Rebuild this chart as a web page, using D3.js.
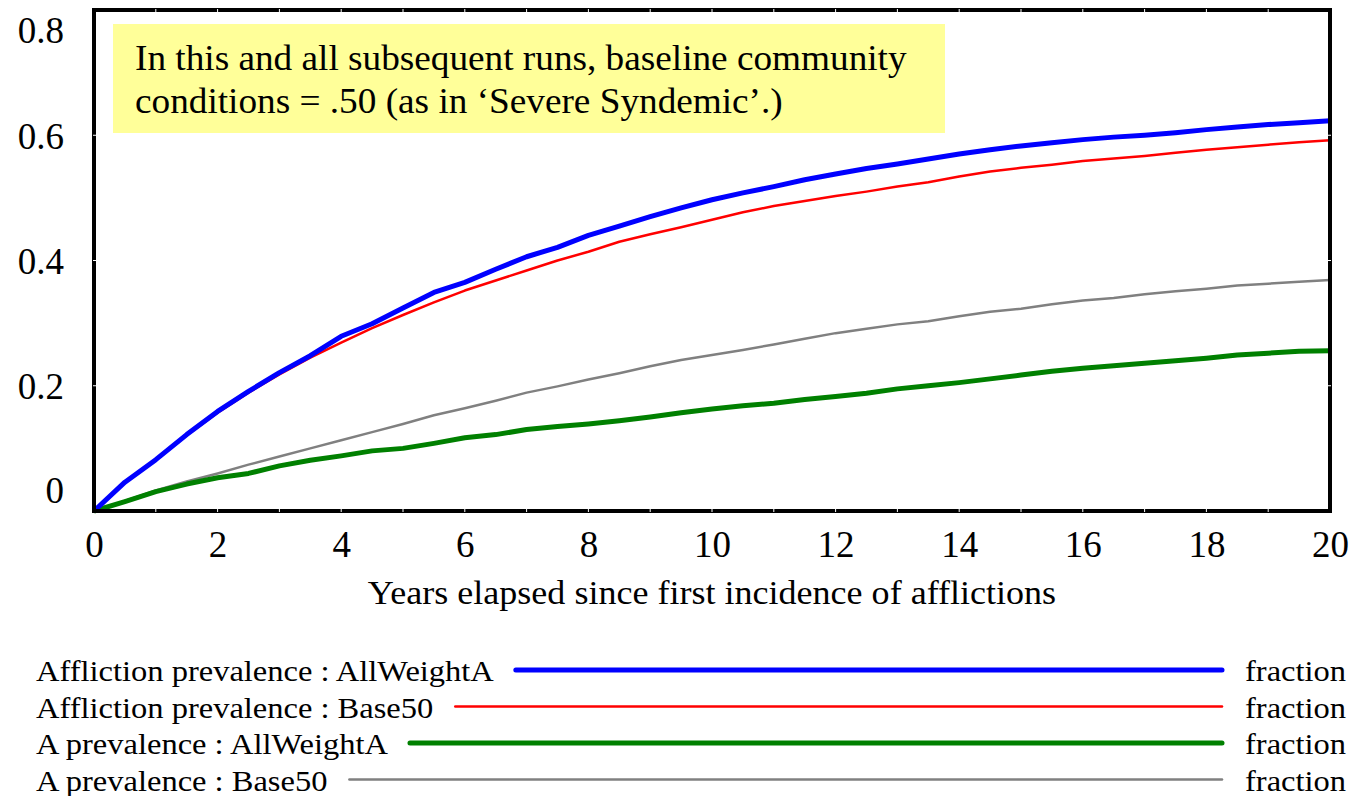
<!DOCTYPE html>
<html>
<head>
<meta charset="utf-8">
<script src="https://cdn.jsdelivr.net/npm/d3@7"></script>
<style>
  html, body { margin: 0; padding: 0; background: #fff; }
  svg { display: block; font-family: "Liberation Serif", "Times New Roman", serif; }
</style>
</head>
<body>
<svg id="chart" width="1352" height="796"></svg>
<script>
// years, saved every half year
const years = d3.range(0, 20.001, 0.5);

const afflictionAllWeightA = [
  0, 0.046, 0.082, 0.122, 0.159, 0.191, 0.221, 0.248, 0.279, 0.299,
  0.324, 0.349, 0.365, 0.386, 0.406, 0.421, 0.440, 0.455, 0.470, 0.484,
  0.497, 0.508, 0.518, 0.529, 0.538, 0.547, 0.554, 0.562, 0.570, 0.577,
  0.583, 0.588, 0.593, 0.597, 0.600, 0.604, 0.609, 0.613, 0.617, 0.620, 0.623
];
const afflictionBase50 = [
  0, 0.046, 0.082, 0.121, 0.157, 0.189, 0.218, 0.245, 0.269, 0.292,
  0.313, 0.333, 0.352, 0.368, 0.384, 0.400, 0.414, 0.430, 0.442, 0.453,
  0.465, 0.477, 0.487, 0.495, 0.503, 0.510, 0.518, 0.525, 0.534, 0.542,
  0.548, 0.553, 0.559, 0.563, 0.567, 0.572, 0.577, 0.581, 0.585, 0.589, 0.592
];
const aAllWeightA = [
  0, 0.015, 0.031, 0.043, 0.053, 0.060, 0.072, 0.081, 0.088, 0.096,
  0.100, 0.108, 0.117, 0.122, 0.130, 0.135, 0.139, 0.144, 0.150, 0.157,
  0.163, 0.168, 0.172, 0.178, 0.183, 0.188, 0.195, 0.200, 0.205, 0.211,
  0.217, 0.223, 0.228, 0.232, 0.236, 0.240, 0.244, 0.249, 0.252, 0.255, 0.256
];
const aBase50 = [
  0, 0.016, 0.033, 0.047, 0.060, 0.074, 0.087, 0.100, 0.113, 0.126,
  0.139, 0.153, 0.164, 0.176, 0.189, 0.199, 0.210, 0.220, 0.231, 0.241,
  0.249, 0.257, 0.266, 0.275, 0.284, 0.291, 0.298, 0.303, 0.311, 0.318,
  0.323, 0.330, 0.336, 0.340, 0.346, 0.351, 0.355, 0.360, 0.363, 0.366, 0.369
];

const xTicks = [0, 2, 4, 6, 8, 10, 12, 14, 16, 18, 20];
const yTicks = [0, 0.2, 0.4, 0.6, 0.8];
const xTitle = 'Years elapsed since first incidence of afflictions';
const noteLines = [
  'In this and all subsequent runs, baseline community',
  'conditions = .50 (as in \u2018Severe Syndemic\u2019.)'
];

// legend order
const series = [
  { label: 'Affliction prevalence : AllWeightA', unit: 'fraction', values: afflictionAllWeightA, color: '#0000ff', width: 5 },
  { label: 'Affliction prevalence : Base50', unit: 'fraction', values: afflictionBase50, color: '#ff0000', width: 2.5 },
  { label: 'A prevalence : AllWeightA', unit: 'fraction', values: aAllWeightA, color: '#008000', width: 5 },
  { label: 'A prevalence : Base50', unit: 'fraction', values: aBase50, color: '#808080', width: 2.5 }
];

const svg = d3.select('#chart');
const plotLeft = 94, plotRight = 1330, plotTop = 10, plotBottom = 511;

const x = d3.scaleLinear().domain([0, 20]).range([plotLeft, plotRight]);
const y = d3.scaleLinear().domain([0, 0.8]).range([plotBottom, plotTop]);

// the original type is a little wider than Times; stretch glyphs sideways
function widen(sel, k) {
  sel.each(function () {
    const w = this.getComputedTextLength();
    d3.select(this).attr('textLength', w * k).attr('lengthAdjust', 'spacingAndGlyphs');
  });
}

// note box
const note = svg.append('g');
note.append('rect')
  .attr('x', 113).attr('y', 24).attr('width', 832).attr('height', 109)
  .attr('fill', '#ffff99');
note.selectAll('text')
  .data(noteLines)
  .join('text')
  .attr('x', 135)
  .attr('y', function (d, i) { return 70 + i * 43; })
  .attr('font-size', 35)
  .attr('fill', '#000')
  .text(function (d) { return d; })
  .call(widen, 1.064);

// lines (grey and green under red and blue)
const line = d3.line()
  .x(function (d, i) { return x(years[i]); })
  .y(function (d) { return y(d); });

const drawOrder = [series[3], series[2], series[1], series[0]];
svg.append('g')
  .selectAll('path')
  .data(drawOrder)
  .join('path')
  .attr('d', function (s) { return line(s.values); })
  .attr('fill', 'none')
  .attr('stroke', function (s) { return s.color; })
  .attr('stroke-width', function (s) { return s.width; })
  .attr('stroke-linejoin', 'round');

// frame
svg.append('rect')
  .attr('x', plotLeft).attr('y', plotTop)
  .attr('width', plotRight - plotLeft).attr('height', plotBottom - plotTop)
  .attr('fill', 'none')
  .attr('stroke', '#000')
  .attr('stroke-width', 4);

// small white ticks sitting on the frame
const tickG = svg.append('g').attr('stroke', '#fff').attr('stroke-width', 1);
d3.range(1, 20).forEach(function (t) {
  tickG.append('line').attr('x1', x(t)).attr('x2', x(t)).attr('y1', plotBottom - 2).attr('y2', plotBottom + 1);
  tickG.append('line').attr('x1', x(t)).attr('x2', x(t)).attr('y1', plotTop - 1).attr('y2', plotTop + 2);
});
[0.2, 0.4, 0.6].forEach(function (v) {
  tickG.append('line').attr('x1', plotLeft - 1).attr('x2', plotLeft + 2).attr('y1', y(v)).attr('y2', y(v));
  tickG.append('line').attr('x1', plotRight - 2).attr('x2', plotRight + 1).attr('y1', y(v)).attr('y2', y(v));
});

// y axis labels (end labels pulled inside, as in the original)
const yAxis = svg.append('g')
  .attr('transform', 'translate(' + (plotLeft - 30) + ',0)')
  .call(d3.axisLeft(y).tickValues(yTicks).tickSize(0).tickPadding(0)
    .tickFormat(function (d) { return d === 0 ? '0' : String(d); }));
yAxis.select('.domain').remove();
yAxis.attr('font-family', null);
yAxis.selectAll('text')
  .attr('font-size', 37)
  .attr('fill', '#000')
  .attr('dy', function (d) { return d === 0.8 ? '0.88em' : (d === 0 ? '-0.22em' : '0.35em'); });

// x axis labels
const xAxis = svg.append('g')
  .attr('transform', 'translate(0,' + plotBottom + ')')
  .call(d3.axisBottom(x).tickValues(xTicks).tickSize(0).tickPadding(20).tickFormat(d3.format('d')));
xAxis.select('.domain').remove();
xAxis.attr('font-family', null);
xAxis.selectAll('text')
  .attr('font-size', 37)
  .attr('fill', '#000');

svg.append('text')
  .attr('x', (plotLeft + plotRight) / 2)
  .attr('y', 604)
  .attr('text-anchor', 'middle')
  .attr('font-size', 34)
  .text(xTitle)
  .call(widen, 1.06);

// legend
const legend = svg.append('g');
const rows = legend.selectAll('g')
  .data(series)
  .join('g')
  .attr('transform', function (d, i) { return 'translate(0,' + (681 + i * 36.5) + ')'; });
rows.append('text')
  .attr('class', 'lab')
  .attr('x', 36)
  .attr('font-size', 30)
  .text(function (d) { return d.label; })
  .call(widen, 1.083);
rows.append('text')
  .attr('x', 1245)
  .attr('font-size', 30)
  .text(function (d) { return d.unit; })
  .call(widen, 1.083);
rows.each(function (d) {
  const row = d3.select(this);
  const w = +row.select('.lab').attr('textLength');
  row.append('line')
    .attr('x1', 36 + w + 22).attr('x2', 1222)
    .attr('y1', -11).attr('y2', -11)
    .attr('stroke', d.color)
    .attr('stroke-width', d.width)
    .attr('stroke-linecap', 'round');
});
</script>
</body>
</html>
